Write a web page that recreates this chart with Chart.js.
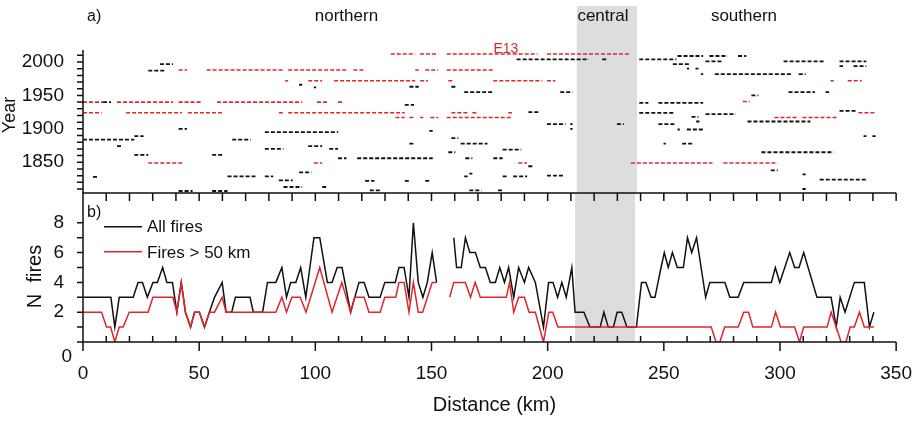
<!DOCTYPE html>
<html>
<head>
<meta charset="utf-8">
<script src="https://cdn.jsdelivr.net/npm/chart.js@4.4.0/dist/chart.umd.min.js"></script>
<style>
    html, body { margin: 0; padding: 0; background: #fff; }
    #wrap { position: relative; width: 924px; height: 421px; overflow: hidden; }
    .box { position: absolute; left: 0; width: 924px; }
    #topBox { top: 0; height: 194px; }
    #botBox { top: 190px; height: 231px; }
</style>
</head>
<body>
<div id="wrap">
    <div class="box" id="topBox"><canvas id="fireYears"></canvas></div>
    <div class="box" id="botBox"><canvas id="fireCounts"></canvas></div>
</div>
<script>
// panel a: fire extents, [year, from km, to km]
const allFireSpans = [
    [1997, 33, 38.6], [1987, 28, 35], [1966, 92.7, 94], [1962, 99, 100], [1940, 8.6, 12],
    [1900, 41, 44.6], [1895, 78, 109.5], [1889, 22, 26], [1884, 0, 22], [1884, 64, 72],
    [1874, 14.6, 16.3], [1874, 96.6, 102.6], [1870, 78, 86], [1870, 105.6, 109.4],
    [1861, 22, 28], [1861, 55.4, 60], [1856, 109.4, 113], [1856, 117.6, 150],
    [1828, 4.3, 6], [1829, 62, 74], [1829, 78, 81.6], [1835, 92.7, 98], [1823, 84, 90],
    [1813, 86, 94], [1813, 102.6, 105], [1807, 41, 47], [1807, 55.4, 62],
    [2004, 186, 217], [2004, 222.7, 225], [2004, 238.6, 254.5], [1963, 140, 144],
    [1963, 158, 159.7], [1955, 163.5, 175.5], [1955, 204.7, 210], [1936, 138, 142],
    [1925, 191, 196], [1907, 199, 207], [1907, 209, 210], [1907, 229, 232], [1900, 209, 210],
    [1897, 148.5, 150], [1886, 158, 161], [1878, 140, 142], [1878, 162, 173.5],
    [1869, 180, 188], [1865, 156.7, 159.7], [1856, 164, 167], [1856, 176, 180],
    [1844, 191, 192.7], [1833, 165.7, 167], [1829, 163.5, 165], [1829, 180, 182],
    [1829, 184.5, 190.5], [1830, 199, 206], [1822, 121, 125], [1822, 138, 140],
    [1822, 146.8, 148.5], [1808, 123, 127.5], [1808, 165.7, 171], [1808, 178, 180],
    [2009, 255, 266], [2009, 268.7, 276.5], [2009, 281, 284.5], [1997, 253, 260],
    [2001, 267, 274], [1990, 259, 260], [1990, 262.7, 264], [1982, 265, 266],
    [1982, 271, 304], [1982, 307, 310], [2001, 300.5, 318], [2001, 324.5, 336],
    [1994, 324.5, 326], [1994, 330.5, 336], [1955, 302.6, 314], [1955, 318.5, 320],
    [1950, 286.7, 289.7], [1939, 238.6, 242.5], [1939, 246.8, 266], [1924, 238.6, 254],
    [1922, 267, 280], [1927, 324.5, 332], [1918, 261, 264], [1911, 285, 312],
    [1911, 263, 264.4], [1907, 246.8, 254.5], [1899, 255, 256], [1899, 259, 266],
    [1889, 334.8, 336], [1889, 338.6, 340], [1878, 249, 250], [1878, 257, 262],
    [1865, 291, 322], [1838, 295, 298], [1832, 308.6, 310], [1824, 316, 336], [1810, 308.6, 310]
];
const bigFireSpans = [
    [2012, 132, 142.5], [2012, 144.6, 152.4], [2012, 156, 195], [2012, 199, 235],
    [1988, 41, 44.6], [1988, 53, 86], [1988, 88, 113], [1988, 116, 121], [1988, 142.5, 144],
    [1988, 146.8, 152.4], [1988, 156, 176],
    [1972, 86.7, 88], [1972, 96.6, 102.6], [1972, 107.7, 142.5], [1972, 144.6, 148],
    [1972, 156.7, 158.4], [1972, 176, 197], [1972, 199, 202.6], [1972, 320.6, 322], [1972, 328, 334],
    [1940, 0, 8.6], [1940, 14.6, 38.6], [1940, 41, 51], [1940, 57.5, 94], [1940, 100.4, 105],
    [1940, 109.4, 111.6], [1941, 283, 286],
    [1924, 0, 8], [1924, 18.5, 42.5], [1924, 45, 60], [1924, 84, 86], [1924, 88, 138],
    [1924, 158, 165], [1924, 167, 169.5], [1924, 182.4, 184], [1924, 332.6, 340],
    [1917, 134, 138], [1917, 140, 142.5], [1917, 144.6, 146], [1917, 149, 152.4],
    [1917, 156, 184], [1917, 296.6, 306.5], [1917, 308.6, 324],
    [1849, 28, 43], [1849, 99, 102.6], [1849, 186.7, 190.5], [1849, 235, 270], [1849, 274.7, 298]
];

// panel b: number of fires along the coast
const allFiresKm = [0, 12, 13.7, 15.6, 21.6, 23.7, 25.6, 27.7, 30.1, 32, 34.3, 36.1, 38.5, 40.4,
    42.3, 44.1, 46.3, 48, 50.1, 52.3, 54.4, 56.6, 59.9, 61.6, 64, 65.6, 71.9, 73.3, 77.3, 79.4,
    83, 85.6, 87.6, 89.4, 91.6, 93.7, 95.9, 99.4, 101.9, 105.2, 107.2, 109.4, 111.5, 115.2,
    118.8, 121, 123.1, 127.9, 129.9, 134.4, 136, 138.2, 140.3, 142.2, 144.3, 146.3, 148.2,
    150.3, 152.2, 155, 159.6, 160.8, 162.8, 164.6, 166.5, 168.9, 171, 173.2, 175.3, 177.5,
    179.4, 181.4, 183.2, 185.4, 187.5, 190, 191.8, 194.7, 198.2, 200.4, 202.3, 204.3, 206.1,
    208, 210.4, 211.8, 215.6, 218.2, 222.6, 224.2, 226.1, 228.3, 229.9, 231.9, 234.1, 238.2,
    240.4, 242.3, 244.5, 246.2, 248.8, 250.2, 251.9, 253.7, 255.8, 258.4, 260.2, 262, 264.1,
    268, 269.8, 276.3, 278.4, 282, 284.4, 296.3, 298, 299.9, 304.2, 306.3, 308.2, 310.2,
    315.9, 322, 324.2, 325.9, 328, 332, 336.3, 338.5, 340.4];
const allFiresN = [3, 3, 1, 3, 3, 4, 4, 3, 4, 4, 5, 4, 4, 2,
    4, 2, 1, 2, 2, 1, 2, 3, 4, 2, 2, 3, 3, 2, 2, 4,
    4, 5, 3, 4, 4, 5, 3, 7, 7, 4, 4, 5, 5, 2,
    4, 4, 3, 3, 4, 4, 5, 5, 3, 8, 4, 3, 4,
    6, 4, null, 7, 5, 5, 7, 6, 6, 5, 5, 4, 4,
    5, 4, 5, 3, 5, 4, 5, 4, 1, 4, 4, 3, 4,
    3, 5, 2, 2, 1, 1, 2, 1, 1, 2, 2, 1, 1,
    4, 4, 3, 3, 5, 6, 5, 6, 5, 5, 7, 6, 7,
    3, 4, 4, 3, 3, 4, 4, 5, 4, 6, 5, 5, 6,
    3, 3, 1, 3, 2, 4, 4, 1, 2];
const bigFiresKm = [0, 8, 10.1, 11.9, 13.7, 15.6, 17.3, 19.9, 28, 30.1, 38.7, 40.4, 42.3, 44.1,
    46.3, 48, 50.1, 52.3, 54.4, 56.6, 59.9, 61.6, 83, 85.6, 87.6, 89.9, 93.5, 96, 101.9,
    107.2, 111.4, 115.2, 116.9, 121, 123.1, 127.9, 129.9, 134.6, 136, 138.2, 140.3, 142.2,
    144.3, 146.2, 150.3, 152.2, 155, 157.8, 159.6, 164.6, 166.8, 168.8, 171, 182.2, 183.6,
    185.4, 187.5, 190, 192, 194.7, 198.2, 200.5, 202.2, 204.4, 270.4, 272.5, 274.1, 276.2,
    282, 284.4, 286.5, 288.3, 296.3, 298.1, 300.2, 306.3, 308.4, 310.2, 320.3, 322, 324.2,
    326.3, 328.4, 330.2, 332, 334.2, 336.3, 340.4];
const bigFiresN = [2, 2, 1, 1, 0, 1, 1, 2, 2, 3, 3, 2, 4, 2,
    1, 2, 2, 1, 2, 2, 3, 2, 2, 3, 2, 3, 3, 2, 5,
    2, 4, 2, 3, 3, 2, 2, 3, 3, 4, 4, 2, 4,
    2, 2, 4, 4, null, 3, 4, 4, 3, 4, 3, 3, 4,
    2, 3, 3, 2, 2, 0, 2, 2, 1, 1, 0, 0, 1,
    1, 2, 2, 1, 1, 2, 1, 1, 0, 1, 1, 2, 1,
    0, 0, 1, 1, 2, 1, 1];

const xTickLabels = [0, 50, 100, 150, 200, 250, 300, 350];
const yearTickLabels = [1850, 1900, 1950, 2000];
const countTickLabels = [2, 4, 6, 8];
const centralZoneKm = [211.8, 237.6];
const regionNames = ['northern', 'central', 'southern'];
const regionCentreKm = [113, 223, 283.5];

const RED = '#e1262b';
const INK = '#111111';
const BAND = '#dcdddf';
const FONT = '"Liberation Sans", Arial, Helvetica, sans-serif';

function spansToPoints(spans) {
    let points = [];
    spans.forEach(s => {
        points.push({ x: s[1], y: s[0] }, { x: s[2], y: s[0] }, { x: s[2], y: null });
    });
    return points;
}

function seriesToPoints(km, n) {
    return km.map((k, i) => ({ x: k, y: n[i] }));
}

// keep the plot area where the figure has it, whatever the tick labels need
function fitYAxis(scale) {
    scale.width = 83;
    scale.paddingTop = 0;
    scale.paddingBottom = 0;
}

function drawBand(chart, top, bottom) {
    let x = chart.scales.x;
    let ctx = chart.ctx;
    let x0 = x.getPixelForValue(centralZoneKm[0]);
    let x1 = x.getPixelForValue(centralZoneKm[1]);
    ctx.save();
    ctx.fillStyle = BAND;
    ctx.fillRect(x0, top, x1 - x0, bottom - top);
    ctx.restore();
}

const topDecor = {
    id: 'topDecor',
    beforeDatasetsDraw(chart) {
        drawBand(chart, 6, chart.height);
    },
    afterDraw(chart) {
        let ctx = chart.ctx;
        let a = chart.chartArea;
        let x = chart.scales.x;
        let y = chart.scales.y;
        ctx.save();
        ctx.strokeStyle = INK;
        ctx.lineWidth = 1.5;
        ctx.beginPath();
        ctx.moveTo(a.left, a.top);
        ctx.lineTo(a.left, a.bottom);
        for (let yr = 1810; yr <= 2010; yr += 10) {
            let py = y.getPixelForValue(yr);
            ctx.moveTo(a.left - 6, py);
            ctx.lineTo(a.left, py);
        }
        ctx.stroke();

        ctx.fillStyle = INK;
        ctx.textBaseline = 'alphabetic';
        ctx.font = '16px ' + FONT;
        ctx.textAlign = 'left';
        ctx.fillText('a)', 87, 20.5);
        ctx.font = '17px ' + FONT;
        ctx.textAlign = 'center';
        regionNames.forEach((name, i) => {
            ctx.fillText(name, x.getPixelForValue(regionCentreKm[i]), 21);
        });
        ctx.fillStyle = RED;
        ctx.font = '14px ' + FONT;
        ctx.fillText('E13', x.getPixelForValue(181.4), 52.5);

        ctx.fillStyle = INK;
        ctx.font = '18px ' + FONT;
        ctx.translate(15, 115);
        ctx.rotate(-Math.PI / 2);
        ctx.fillText('Year', 0, 0);
        ctx.restore();
    }
};

const bottomDecor = {
    id: 'bottomDecor',
    beforeDatasetsDraw(chart) {
        drawBand(chart, chart.chartArea.top, chart.chartArea.bottom);
    },
    afterDraw(chart) {
        let ctx = chart.ctx;
        let a = chart.chartArea;
        let x = chart.scales.x;
        let y = chart.scales.y;
        ctx.save();
        ctx.strokeStyle = INK;
        ctx.lineWidth = 1.5;
        ctx.beginPath();
        ctx.moveTo(a.right, a.top);
        ctx.lineTo(a.left, a.top);
        ctx.lineTo(a.left, a.bottom);
        ctx.lineTo(a.right, a.bottom);
        for (let km = 0; km <= 350; km += 10) {
            let px = x.getPixelForValue(km);
            ctx.moveTo(px, a.top);
            ctx.lineTo(px, a.top + 8);
            if (km % 50 === 0) {
                ctx.moveTo(px, a.bottom);
                ctx.lineTo(px, a.bottom + 9);
            } else {
                ctx.moveTo(px, a.bottom);
                ctx.lineTo(px, a.bottom - 6);
            }
        }
        for (let n = 0; n <= 8; n++) {
            let py = y.getPixelForValue(n);
            ctx.moveTo(a.left - 6, py);
            ctx.lineTo(a.left, py);
        }
        ctx.stroke();

        ctx.fillStyle = INK;
        ctx.font = '19px ' + FONT;
        ctx.textAlign = 'right';
        ctx.textBaseline = 'middle';
        ctx.fillText('0', a.left - 11, y.getPixelForValue(0) + 15);

        ctx.textBaseline = 'alphabetic';
        ctx.textAlign = 'left';
        ctx.font = '16px ' + FONT;
        ctx.fillText('b)', 87, 26.5);

        // legend
        ctx.lineWidth = 1.5;
        ctx.strokeStyle = INK;
        ctx.beginPath();
        ctx.moveTo(104, 36.7);
        ctx.lineTo(142, 36.7);
        ctx.stroke();
        ctx.strokeStyle = RED;
        ctx.beginPath();
        ctx.moveTo(104, 61.7);
        ctx.lineTo(142, 61.7);
        ctx.stroke();
        ctx.font = '17px ' + FONT;
        ctx.fillText('All fires', 147, 42);
        ctx.fillText('Fires > 50 km', 147, 68);

        ctx.textAlign = 'center';
        ctx.font = '20px ' + FONT;
        ctx.fillText('Distance (km)', 494.5, 220.5);
        ctx.translate(41, 86.5);
        ctx.rotate(-Math.PI / 2);
        ctx.fillText('N  fires', 0, 0);
        ctx.restore();
    }
};

new Chart(document.getElementById('fireYears'), {
    type: 'line',
    data: {
        datasets: [
            {
                label: 'Fires > 50 km',
                data: spansToPoints(bigFireSpans),
                borderColor: RED,
                borderWidth: 1.6,
                borderDash: [4, 2],
                pointRadius: 0,
                spanGaps: false,
                tension: 0
            },
            {
                label: 'All fires',
                data: spansToPoints(allFireSpans),
                borderColor: INK,
                borderWidth: 1.8,
                borderDash: [4, 2],
                pointRadius: 0,
                spanGaps: false,
                tension: 0
            }
        ]
    },
    options: {
        responsive: true,
        maintainAspectRatio: false,
        animation: false,
        devicePixelRatio: 1,
        layout: { padding: { top: 50, right: 25, left: 0, bottom: 1 } },
        plugins: { legend: { display: false }, tooltip: { enabled: false } },
        scales: {
            x: { type: 'linear', min: 0, max: 350, display: false },
            y: {
                type: 'linear',
                min: 1804,
                max: 2018,
                afterFit: fitYAxis,
                grid: { display: false },
                border: { display: false },
                ticks: {
                    stepSize: 50,
                    includeBounds: false,
                    padding: 11,
                    color: INK,
                    font: { family: FONT, size: 19 },
                    callback: v => yearTickLabels.includes(v) ? String(v) : ''
                }
            }
        }
    },
    plugins: [topDecor]
});

new Chart(document.getElementById('fireCounts'), {
    type: 'line',
    data: {
        datasets: [
            {
                label: 'Fires > 50 km',
                data: seriesToPoints(bigFiresKm, bigFiresN),
                borderColor: RED,
                borderWidth: 1.5,
                pointRadius: 0,
                spanGaps: false,
                tension: 0
            },
            {
                label: 'All fires',
                data: seriesToPoints(allFiresKm, allFiresN),
                borderColor: INK,
                borderWidth: 1.5,
                pointRadius: 0,
                spanGaps: false,
                tension: 0
            }
        ]
    },
    options: {
        responsive: true,
        maintainAspectRatio: false,
        animation: false,
        devicePixelRatio: 1,
        layout: { padding: { top: 3, right: 25, left: 0, bottom: 0 } },
        plugins: { legend: { display: false }, tooltip: { enabled: false } },
        scales: {
            x: {
                type: 'linear',
                min: 0,
                max: 350,
                afterFit: scale => { scale.height = 79; },
                grid: { display: false },
                border: { display: false },
                ticks: {
                    stepSize: 50,
                    padding: 12,
                    maxRotation: 0,
                    autoSkip: false,
                    color: INK,
                    font: { family: FONT, size: 19 },
                    callback: v => xTickLabels.includes(v) ? String(v) : ''
                }
            },
            y: {
                type: 'linear',
                min: 0,
                max: 10,
                afterFit: fitYAxis,
                grid: { display: false },
                border: { display: false },
                ticks: {
                    stepSize: 2,
                    padding: 11,
                    color: INK,
                    font: { family: FONT, size: 19 },
                    callback: v => countTickLabels.includes(v) ? String(v) : ''
                }
            }
        }
    },
    plugins: [bottomDecor]
});
</script>
</body>
</html>
